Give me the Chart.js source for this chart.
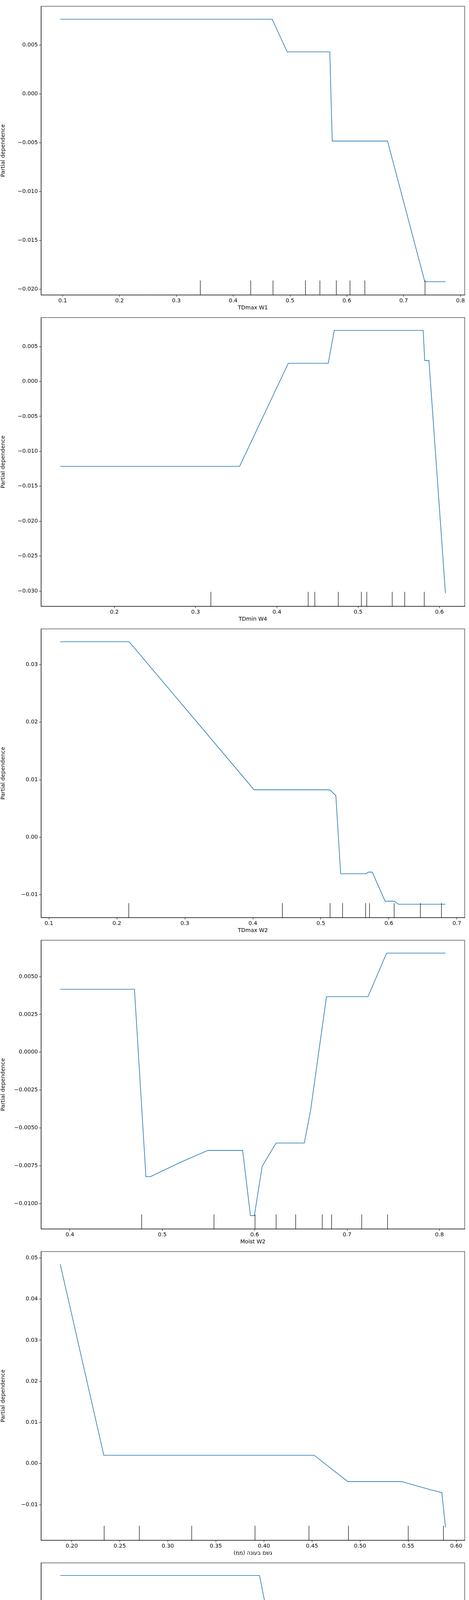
<!DOCTYPE html>
<html>
<head>
<meta charset="utf-8">
<script src="https://cdn.jsdelivr.net/npm/chart.js@4"></script>
<style>
  body { margin: 0; background: #fff; }
  .panel { position: relative; width: 1200px; height: 797px; }
</style>
</head>
<body>
<div id="wrap"></div>
<script>
// feature names
const featureNames = ['TDmax W1', 'TDmin W4', 'TDmax W2', 'Moist W2', '\u202Bגשם בעונה (ממ)\u202C', 'Moist W6'];

// partial dependence curves (x, y)
const pd1X = [0.0958, 0.4686, 0.495, 0.570, 0.5743, 0.6716, 0.7372, 0.7737];
const pd1Y = [0.00765, 0.00765, 0.00431, 0.00431, -0.00482, -0.00482, -0.01922, -0.01922];
const pd2X = [0.1335, 0.3542, 0.4140, 0.4632, 0.4706, 0.5800, 0.5819, 0.5871, 0.6074];
const pd2Y = [-0.01214, -0.01214, 0.00260, 0.00260, 0.00731, 0.00731, 0.00300, 0.00300, -0.03029];
const pd3X = [0.1168, 0.2180, 0.4018, 0.5132, 0.5220, 0.5291, 0.5662, 0.5697, 0.5755, 0.5945, 0.6082, 0.6139, 0.6833];
const pd3Y = [0.03398, 0.03398, 0.00825, 0.00825, 0.00725, -0.00633, -0.00633, -0.00605, -0.00605, -0.01111, -0.01111, -0.01163, -0.01163];
const pd4X = [0.3896, 0.4699, 0.4823, 0.4872, 0.5197, 0.5496, 0.5870, 0.5954, 0.5997, 0.6081, 0.6231, 0.6537, 0.6605, 0.6777, 0.7226, 0.7428, 0.8065];
const pd4Y = [0.00416, 0.00416, -0.00822, -0.00822, -0.00727, -0.00648, -0.00648, -0.01079, -0.01079, -0.00754, -0.00600, -0.00600, -0.00385, 0.00367, 0.00367, 0.00655, 0.00655];
const pd5X = [0.1881, 0.2334, 0.4522, 0.4872, 0.5431, 0.5725, 0.5850, 0.5888];
const pd5Y = [0.04845, 0.00203, 0.00203, -0.00437, -0.00437, -0.00631, -0.00704, -0.01548];
const pd6X = [0.2057, 0.4960, 0.5345, 0.5757, 0.5813, 0.5949, 0.7670];
const pd6Y = [0.01319, 0.01319, 0.00262, -0.00392, -0.00392, -0.00783, -0.00783];

// deciles (rug marks)
const rug1 = [0.3417, 0.4305, 0.4696, 0.5268, 0.5521, 0.5812, 0.6050, 0.6315, 0.7372];
const rug2 = [0.3183, 0.4381, 0.4466, 0.4754, 0.5035, 0.5105, 0.5416, 0.5571, 0.5811];
const rug3 = [0.2175, 0.4429, 0.5132, 0.5317, 0.5658, 0.5711, 0.6073, 0.6462, 0.6771];
const rug4 = [0.4777, 0.5558, 0.6003, 0.6231, 0.6442, 0.6728, 0.6829, 0.7158, 0.7434];
const rug5 = [0.2334, 0.2700, 0.3247, 0.3906, 0.4466, 0.4878, 0.5497, 0.5866];
const rug6 = [0.3165, 0.3896, 0.4312, 0.4960, 0.5787, 0.6063, 0.6361, 0.6523, 0.7267];

// axis limits and tick steps
const xMin = [0.0619, 0.1098, 0.0885, 0.3688, 0.1681, 0.1777];
const xMax = [0.8074, 0.6311, 0.7115, 0.8273, 0.6088, 0.7950];
const yMin = [-0.02057, -0.03217, -0.01395, -0.01167, -0.01863, -0.00893];
const yMax = [0.00898, 0.00914, 0.0362, 0.0074, 0.05155, 0.0142];
const xStep = [0.1, 0.1, 0.1, 0.1, 0.05, 0.1];
const yStep = [0.005, 0.005, 0.01, 0.0025, 0.01, 0.005];
const xDec = [1, 1, 1, 1, 2, 1];
const yDec = [3, 3, 2, 4, 2, 3];

const curvesX = [pd1X, pd2X, pd3X, pd4X, pd5X, pd6X];
const curvesY = [pd1Y, pd2Y, pd3Y, pd4Y, pd5Y, pd6Y];
const rugs = [rug1, rug2, rug3, rug4, rug5, rug6];

const font = { family: 'DejaVu Sans', size: 14 };
const fmt = (v, d) => {
  const s = Math.abs(v).toFixed(d);
  return (v < -1e-12 ? '\u2212' : '') + s;
};

// draws the decile rug along the bottom of the axes, plus the full axes box
const rugPlugin = {
  id: 'rug',
  afterDatasetsDraw(chart, args, opts) {
    const { ctx, chartArea, scales } = chart;
    const h = (chartArea.bottom - chartArea.top) * 0.05;
    ctx.save();
    ctx.strokeStyle = '#000';
    ctx.lineWidth = 1.2;
    opts.values.forEach(v => {
      const px = Math.round(scales.x.getPixelForValue(v)) + 0.5;
      ctx.beginPath();
      ctx.moveTo(px, chartArea.bottom);
      ctx.lineTo(px, chartArea.bottom - h);
      ctx.stroke();
    });
    ctx.lineWidth = 1;
    ctx.strokeRect(chartArea.left, chartArea.top, chartArea.right - chartArea.left, chartArea.bottom - chartArea.top);
    ctx.restore();
  }
};

const wrap = document.getElementById('wrap');
for (let i = 0; i < 6; i++) {
  const div = document.createElement('div');
  div.className = 'panel';
  const canvas = document.createElement('canvas');
  div.appendChild(canvas);
  wrap.appendChild(div);

  const pts = curvesX[i].map((x, k) => ({ x: x, y: curvesY[i][k] }));

  new Chart(canvas.getContext('2d'), {
    type: 'line',
    data: {
      datasets: [{
        data: pts,
        borderColor: '#1f77b4',
        borderWidth: 1.6,
        pointRadius: 0,
        tension: 0,
        fill: false
      }]
    },
    plugins: [rugPlugin],
    options: {
      responsive: true,
      maintainAspectRatio: false,
      animation: false,
      layout: { padding: { top: 16, right: 11, left: 0, bottom: 0 } },
      plugins: {
        legend: { display: false },
        tooltip: { enabled: false },
        rug: { values: rugs[i] }
      },
      scales: {
        x: {
          type: 'linear',
          min: xMin[i],
          max: xMax[i],
          afterFit: s => { s.height = 42; },
          border: { color: '#000', width: 1 },
          grid: { drawOnChartArea: false, drawTicks: true, tickLength: 5, color: '#000' },
          ticks: {
            stepSize: xStep[i],
            includeBounds: false,
            color: '#000',
            font: font,
            padding: 2,
            maxRotation: 0,
            callback: v => fmt(v, xDec[i])
          },
          title: { display: true, text: featureNames[i], color: '#000', font: font, padding: { top: 2, bottom: 0 } }
        },
        y: {
          type: 'linear',
          min: yMin[i],
          max: yMax[i],
          afterFit: s => { s.width = 105; },
          border: { color: '#000', width: 1 },
          grid: { drawOnChartArea: false, drawTicks: true, tickLength: 5, color: '#000' },
          ticks: {
            stepSize: yStep[i],
            includeBounds: false,
            color: '#000',
            font: font,
            padding: 3,
            callback: v => fmt(v, yDec[i])
          },
          title: { display: true, text: 'Partial dependence', color: '#000', font: font, padding: 0 }
        }
      }
    }
  });
}
</script>
</body>
</html>
